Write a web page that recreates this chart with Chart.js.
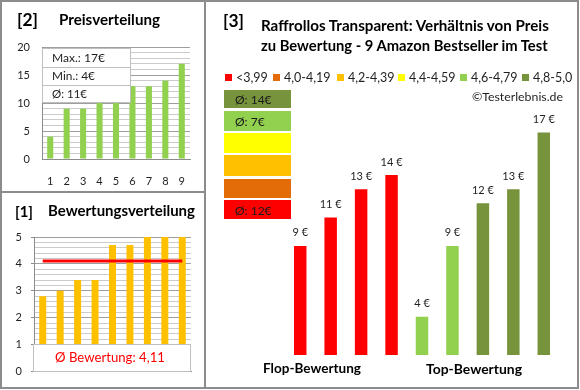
<!DOCTYPE html>
<html>
<head>
<meta charset="utf-8" />
<script src="https://cdn.jsdelivr.net/npm/chart.js@4.4.1/dist/chart.umd.min.js"></script>
<style>
  body { margin: 0; background: #fff; font-family: Lato, "Open Sans", sans-serif; color: #1f1f1f; }
  #wrap { position: relative; width: 580px; height: 390px; overflow: hidden; background: #fff; }
  .cv { position: absolute; }
  .line { position: absolute; background: #8c8c8c; }
  .t { position: absolute; white-space: nowrap; line-height: 1; transform: translateY(-50%); }
  .b { font-weight: bold; color: #000; }
  .box { position: absolute; background: #fff; border: 1px solid #bfbfbf; box-sizing: border-box; }
</style>
<title>Raffrollos Transparent</title>
</head>
<body>
<div id="wrap">
  <div class="cv" style="left:0px;top:0px"><canvas id="cPrice" width="204" height="191"></canvas></div>
  <div class="cv" style="left:0px;top:193px"><canvas id="cRating" width="204" height="194"></canvas></div>
  <div class="cv" style="left:206px;top:2px"><canvas id="cPair" width="371" height="385"></canvas></div>

  <!-- frame -->
  <div style="position:absolute;left:0;top:0;width:579px;height:389px;border:2px solid #8c8c8c;box-sizing:border-box"></div>
  <div class="line" style="left:204px;top:0;width:2px;height:389px"></div>
  <div class="line" style="left:0;top:191px;width:205px;height:2px"></div>

  <!-- panel 2 -->
  <div class="t b" style="left:17px;top:20px;font-size:17px" data-w="21">[2]</div>
  <div class="t b" style="left:59px;top:20px;font-size:14px" data-w="101">Preisverteilung</div>
  <div class="box" style="left:42px;top:48px;width:89px;height:55px">
    <div style="height:18px;border-bottom:1px solid #bfbfbf"></div>
    <div style="height:17px;border-bottom:1px solid #bfbfbf"></div>
  </div>
  <div class="t" id="tMax" style="left:52px;top:58px;font-size:12px" data-w="53"></div>
  <div class="t" id="tMin" style="left:52px;top:76px;font-size:12px" data-w="43"></div>
  <div class="t" id="tAvg" style="left:52px;top:94px;font-size:12px" data-w="35"></div>

  <!-- panel 1 -->
  <div class="t b" style="left:15px;top:211px;font-size:17px" data-w="18">[1]</div>
  <div class="t b" style="left:48px;top:210px;font-size:14px" data-w="147">Bewertungsverteilung</div>
  <div class="box" style="left:33px;top:344px;width:158px;height:28px"></div>
  <div class="t" id="tRating" style="left:55px;top:358px;font-size:12px;color:#ff0000" data-w="110"></div>

  <!-- panel 3 -->
  <div class="t b" style="left:223px;top:21px;font-size:17px" data-w="21">[3]</div>
  <div class="t b" style="left:261px;top:26px;font-size:14px" data-w="288">Raffrollos Transparent: Verhältnis von Preis</div>
  <div class="t b" style="left:261px;top:45px;font-size:14px" data-w="287">zu Bewertung - 9 Amazon Bestseller im Test</div>
  <div class="t" style="left:472px;top:97px;font-size:12px" data-w="91">©Testerlebnis.de</div>
  <div class="t b" style="left:263px;top:369px;font-size:14px" data-w="98">Flop-Bewertung</div>
  <div class="t b" style="left:426px;top:369px;font-size:14px" data-w="96">Top-Bewertung</div>
</div>

<script>
  // Data
  const priceCats = ["1", "2", "3", "4", "5", "6", "7", "8", "9"];
  const prices = [4, 9, 9, 10, 10, 13, 13, 14, 17];
  const ratings = [2.8, 3.0, 3.4, 3.4, 4.7, 4.7, 5.0, 5.0, 5.0];
  // price vs rating, same products (flop first, then top)
  const pairCats = ["1", "2", "3", "4", "5", "6", "7", "8", "9"];
  const pairPrices = [9, 11, 13, 14, 4, 9, 12, 13, 17];
  const pairRatings = [2.8, 3.0, 3.4, 3.4, 4.7, 4.7, 5.0, 5.0, 5.0];
  const classLabels = ["<3,99", "4,0-4,19", "4,2-4,39", "4,4-4,59", "4,6-4,79", "4,8-5,0"];
  const classLower = [0, 4.0, 4.2, 4.4, 4.6, 4.8];

  // styles / layout
  const FONT = 'Lato, "Open Sans", sans-serif';
  const classColors = ["#FF0000", "#E36C09", "#FFC000", "#FFFF00", "#92D050", "#77933C"];
  const legendLeft = [225, 273, 337, 398, 460, 522];
  const boxTops = [90, 111, 133, 155, 179, 200];
  const boxHeights = [18, 20, 20, 21, 19, 19];

  Chart.defaults.font.family = FONT;
  Chart.defaults.color = "#1f1f1f";

  const euro = (v) => Math.round(v) + "€";
  const mean = (a) => a.reduce((s, v) => s + v, 0) / a.length;
  const classOf = (r) => {
    let k = 0;
    classLower.forEach((lo, i) => { if (r >= lo) k = i; });
    return k;
  };

  // texts computed from the data
  document.getElementById("tMax").textContent = "Max.: " + euro(Math.max(...prices));
  document.getElementById("tMin").textContent = "Min.: " + euro(Math.min(...prices));
  document.getElementById("tAvg").textContent = "Ø: " + euro(mean(prices));
  const avgRating = mean(ratings);
  document.getElementById("tRating").textContent =
    "Ø Bewertung: " + avgRating.toFixed(2).replace(".", ",");

  // legend row
  const wrap = document.getElementById("wrap");
  classLabels.forEach((lab, i) => {
    const sq = document.createElement("div");
    sq.style.cssText = `position:absolute;left:${legendLeft[i]}px;top:74px;width:7px;height:7px;background:${classColors[i]}`;
    wrap.appendChild(sq);
    const tx = document.createElement("div");
    tx.className = "t";
    tx.style.cssText = `left:${legendLeft[i] + 11}px;top:78px;font-size:12.5px`;
    tx.textContent = lab;
    wrap.appendChild(tx);
  });

  // class boxes with average price, best class on top
  for (let row = 0; row < classLabels.length; row++) {
    const k = classLabels.length - 1 - row;
    const bx = document.createElement("div");
    bx.style.cssText = `position:absolute;left:224px;top:${boxTops[row]}px;width:67px;height:${boxHeights[row]}px;background:${classColors[k]}`;
    wrap.appendChild(bx);
    const vals = pairPrices.filter((p, i) => classOf(pairRatings[i]) === k);
    if (vals.length) {
      const tx = document.createElement("div");
      tx.className = "t";
      tx.style.cssText = `left:235px;top:${boxTops[row] + boxHeights[row] / 2 + 1}px;font-size:12px;color:#1a1a1a`;
      tx.textContent = "Ø: " + euro(mean(vals));
      wrap.appendChild(tx);
    }
  }

  // fit text widths to the reference
  document.querySelectorAll("[data-w]").forEach((el) => {
    const w = +el.dataset.w;
    const fs = parseFloat(getComputedStyle(el).fontSize);
    el.style.fontSize = (fs * w / el.getBoundingClientRect().width).toFixed(2) + "px";
  });

  const major = (v, step) => Math.abs(v / step - Math.round(v / step)) < 1e-6;

  // [2] Preisverteilung
  new Chart(document.getElementById("cPrice"), {
    type: "bar",
    data: {
      labels: priceCats,
      datasets: [{ data: prices, backgroundColor: "#92D050", barPercentage: 0.37, categoryPercentage: 1 }],
    },
    options: {
      responsive: false,
      animation: false,
      layout: { padding: { top: 47, right: 14, left: 0, bottom: 0 } },
      plugins: { legend: { display: false }, tooltip: { enabled: false } },
      scales: {
        x: {
          grid: { display: false, drawTicks: false },
          border: { color: "#8c8c8c" },
          ticks: { padding: 16, font: { size: 11 } },
          afterFit: (s) => { s.height = 32; },
        },
        y: {
          min: 0,
          max: 20,
          ticks: {
            stepSize: 1,
            autoSkip: false,
            padding: 12,
            font: { size: 11 },
            callback: (v) => (major(v, 5) ? v : ""),
          },
          grid: {
            drawTicks: false,
            color: (c) => (major(c.tick.value, 5) ? "#9e9e9e" : "#cbcbcb"),
          },
          border: { color: "#8c8c8c" },
          afterFit: (s) => { s.width = 42; },
        },
      },
    },
  });

  // [1] Bewertungsverteilung
  new Chart(document.getElementById("cRating"), {
    type: "bar",
    data: {
      labels: priceCats,
      datasets: [
        {
          type: "line",
          data: ratings.map(() => avgRating),
          borderColor: "#FF0000",
          borderWidth: 3,
          pointRadius: 0,
          order: 0,
        },
        {
          type: "bar",
          data: ratings,
          backgroundColor: "#FFC000",
          barPercentage: 0.4,
          categoryPercentage: 1,
          order: 1,
        },
      ],
    },
    options: {
      responsive: false,
      animation: false,
      layout: { padding: { top: 44, right: 13, left: 0, bottom: 0 } },
      plugins: { legend: { display: false }, tooltip: { enabled: false } },
      scales: {
        x: {
          grid: { display: false, drawTicks: false },
          border: { color: "#8c8c8c" },
          ticks: { display: false },
          afterFit: (s) => { s.height = 15; },
        },
        y: {
          min: 0,
          max: 5,
          ticks: {
            stepSize: 0.2,
            autoSkip: false,
            padding: 9,
            font: { size: 11 },
            callback: (v) => (major(v, 1) ? Math.round(v) : ""),
          },
          grid: {
            tickLength: 3,
            color: (c) => (major(c.tick.value, 1) ? "#9e9e9e" : "#cbcbcb"),
            tickColor: (c) => (major(c.tick.value, 1) ? "#8c8c8c" : "rgba(0,0,0,0)"),
          },
          border: { color: "#8c8c8c" },
          afterFit: (s) => { s.width = 34; },
        },
      },
    },
  });

  // [3] Preis zu Bewertung
  const valueLabels = {
    id: "valueLabels",
    afterDatasetsDraw(chart) {
      const { ctx } = chart;
      ctx.save();
      ctx.font = "11px " + FONT;
      ctx.fillStyle = "#1f1f1f";
      ctx.textAlign = "center";
      ctx.textBaseline = "middle";
      chart.getDatasetMeta(0).data.forEach((bar, i) => {
        ctx.fillText(pairPrices[i] + " €", bar.x, bar.y - 13);
      });
      ctx.restore();
    },
  };

  new Chart(document.getElementById("cPair"), {
    type: "bar",
    data: {
      labels: pairCats,
      datasets: [
        {
          data: pairPrices,
          backgroundColor: pairRatings.map((r) => classColors[classOf(r)]),
          barPercentage: 0.41,
          categoryPercentage: 1,
        },
      ],
    },
    options: {
      responsive: false,
      animation: false,
      layout: { padding: { top: 88, right: 18, left: 79, bottom: 32 } },
      plugins: { legend: { display: false }, tooltip: { enabled: false } },
      scales: {
        x: { display: false },
        y: { display: false, min: 1.3, max: 20 },
      },
    },
    plugins: [valueLabels],
  });
</script>
</body>
</html>
